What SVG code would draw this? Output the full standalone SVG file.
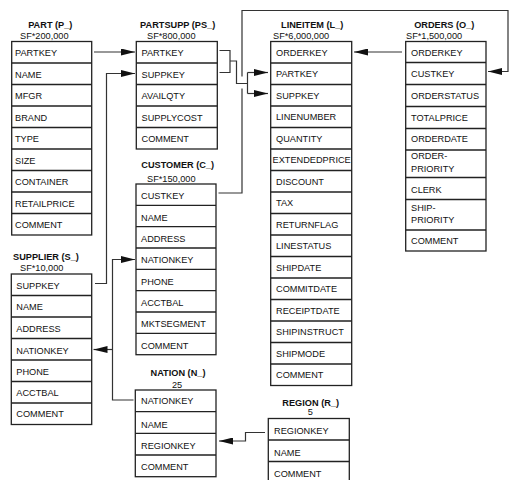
<svg xmlns="http://www.w3.org/2000/svg" width="518" height="480" viewBox="0 0 518 480">
<style>
.t{font-family:"Liberation Sans",Arial,sans-serif;font-size:9.2px;fill:#111}
.h{font-weight:bold;text-anchor:middle}
.m{text-anchor:middle}
.box{fill:#fff;stroke:#222;stroke-width:1.3}
.sep{stroke:#222;stroke-width:1.3;fill:none}
.c{fill:none;stroke:#333;stroke-width:1.2}
</style>
<defs>
<marker id="ah" markerWidth="14" markerHeight="7" refX="14" refY="3.5" orient="auto" markerUnits="userSpaceOnUse"><path d="M0,0 L14,3.5 L0,7 z" fill="#111"/></marker>
</defs>
<rect width="518" height="480" fill="#fff"/>

<g id="part">
<text class="t h" x="50.3" y="27.5">PART (P_)</text>
<text class="t" x="20" y="39.3">SF*200,000</text>
<rect class="box" x="11.7" y="41.5" width="80" height="193.5"/>
<path class="sep" d="M11.7,63H91.7M11.7,84.5H91.7M11.7,106H91.7M11.7,127.5H91.7M11.7,149H91.7M11.7,170.5H91.7M11.7,192H91.7M11.7,213.5H91.7"/>
<text class="t" x="15" y="56">PARTKEY</text>
<text class="t" x="15" y="77.5">NAME</text>
<text class="t" x="15" y="99">MFGR</text>
<text class="t" x="15" y="120.5">BRAND</text>
<text class="t" x="15" y="142">TYPE</text>
<text class="t" x="15" y="163.5">SIZE</text>
<text class="t" x="15" y="185">CONTAINER</text>
<text class="t" x="15" y="206.5">RETAILPRICE</text>
<text class="t" x="15" y="228">COMMENT</text>
</g>

<g id="partsupp">
<text class="t h" x="177.7" y="27.5">PARTSUPP (PS_)</text>
<text class="t" x="147" y="39.3">SF*800,000</text>
<rect class="box" x="136.3" y="41.5" width="81" height="107.5"/>
<path class="sep" d="M136.3,63H217.3M136.3,84.5H217.3M136.3,106H217.3M136.3,127.5H217.3"/>
<text class="t" x="141.5" y="56">PARTKEY</text>
<text class="t" x="141.5" y="77.5">SUPPKEY</text>
<text class="t" x="141.5" y="99">AVAILQTY</text>
<text class="t" x="141.5" y="120.5">SUPPLYCOST</text>
<text class="t" x="141.5" y="142">COMMENT</text>
</g>

<g id="lineitem">
<text class="t h" x="312.2" y="27.8">LINEITEM (L_)</text>
<text class="t" x="273" y="39.3">SF*6,000,000</text>
<rect class="box" x="270.7" y="41.5" width="81" height="344"/>
<path class="sep" d="M270.7,63H351.7M270.7,84.5H351.7M270.7,106H351.7M270.7,127.5H351.7M270.7,149H351.7M270.7,170.5H351.7M270.7,192H351.7M270.7,213.5H351.7M270.7,235H351.7M270.7,256.5H351.7M270.7,278H351.7M270.7,299.5H351.7M270.7,321H351.7M270.7,342.5H351.7M270.7,364H351.7"/>
<text class="t" x="276" y="55.8">ORDERKEY</text>
<text class="t" x="276" y="77.3">PARTKEY</text>
<text class="t" x="276" y="98.8">SUPPKEY</text>
<text class="t" x="276" y="120.3">LINENUMBER</text>
<text class="t" x="276" y="141.8">QUANTITY</text>
<text class="t" x="272.6" y="163.3">EXTENDEDPRICE</text>
<text class="t" x="276" y="184.8">DISCOUNT</text>
<text class="t" x="276" y="206.3">TAX</text>
<text class="t" x="276" y="227.8">RETURNFLAG</text>
<text class="t" x="276" y="249.3">LINESTATUS</text>
<text class="t" x="276" y="270.8">SHIPDATE</text>
<text class="t" x="276" y="292.3">COMMITDATE</text>
<text class="t" x="276" y="313.8">RECEIPTDATE</text>
<text class="t" x="276" y="335.3">SHIPINSTRUCT</text>
<text class="t" x="276" y="356.8">SHIPMODE</text>
<text class="t" x="276" y="378.3">COMMENT</text>
</g>

<g id="orders">
<text class="t h" x="444.3" y="27.8">ORDERS (O_)</text>
<text class="t" x="406" y="39.3">SF*1,500,000</text>
<rect class="box" x="405.7" y="41.5" width="80.3" height="209.5"/>
<path class="sep" d="M405.7,62.5H486M405.7,84.5H486M405.7,106.5H486M405.7,128.5H486M405.7,150H486M405.7,177.5H486M405.7,199.5H486M405.7,230H486"/>
<text class="t" x="411" y="55.5">ORDERKEY</text>
<text class="t" x="411" y="77">CUSTKEY</text>
<text class="t" x="411" y="99">ORDERSTATUS</text>
<text class="t" x="411" y="121.2">TOTALPRICE</text>
<text class="t" x="411" y="141.8">ORDERDATE</text>
<text class="t" x="411" y="159.3">ORDER-</text>
<text class="t" x="411" y="171.7">PRIORITY</text>
<text class="t" x="411" y="192.5">CLERK</text>
<text class="t" x="411" y="211">SHIP-</text>
<text class="t" x="411" y="223.3">PRIORITY</text>
<text class="t" x="411" y="244.3">COMMENT</text>
</g>

<g id="customer">
<text class="t h" x="177.7" y="168.3">CUSTOMER (C_)</text>
<text class="t" x="147" y="181.5">SF*150,000</text>
<rect class="box" x="136" y="184" width="80" height="170.7"/>
<path class="sep" d="M136,205.3H216M136,226.7H216M136,248H216M136,269.3H216M136,290.7H216M136,312H216M136,333.3H216"/>
<text class="t" x="141" y="199.3">CUSTKEY</text>
<text class="t" x="141" y="220.7">NAME</text>
<text class="t" x="141" y="242">ADDRESS</text>
<text class="t" x="141" y="263.3">NATIONKEY</text>
<text class="t" x="141" y="284.7">PHONE</text>
<text class="t" x="141" y="306">ACCTBAL</text>
<text class="t" x="141" y="327.3">MKTSEGMENT</text>
<text class="t" x="141" y="348.5">COMMENT</text>
</g>

<g id="supplier">
<text class="t h" x="46" y="260.3">SUPPLIER (S_)</text>
<text class="t" x="20" y="270.7">SF*10,000</text>
<rect class="box" x="11.3" y="274" width="80.4" height="150.5"/>
<path class="sep" d="M11.3,295.5H91.7M11.3,317H91.7M11.3,338.5H91.7M11.3,360H91.7M11.3,381.5H91.7M11.3,403H91.7"/>
<text class="t" x="16.3" y="289">SUPPKEY</text>
<text class="t" x="16.3" y="310.3">NAME</text>
<text class="t" x="16.3" y="331.7">ADDRESS</text>
<text class="t" x="16.3" y="353.5">NATIONKEY</text>
<text class="t" x="16.3" y="374.5">PHONE</text>
<text class="t" x="16.3" y="395.8">ACCTBAL</text>
<text class="t" x="16.3" y="417">COMMENT</text>
</g>

<g id="nation">
<text class="t h" x="178" y="375.8">NATION (N_)</text>
<text class="t m" x="177" y="388">25</text>
<rect class="box" x="135.3" y="390" width="80.7" height="86.7"/>
<path class="sep" d="M135.3,411.7H216M135.3,433.3H216M135.3,455H216"/>
<text class="t" x="141" y="404.3">NATIONKEY</text>
<text class="t" x="141" y="427.5">NAME</text>
<text class="t" x="141" y="449">REGIONKEY</text>
<text class="t" x="141" y="469.5">COMMENT</text>
</g>

<g id="region">
<text class="t h" x="310.7" y="405.7">REGION (R_)</text>
<text class="t m" x="310.3" y="415.3">5</text>
<rect class="box" x="268.3" y="418.5" width="81" height="64.5"/>
<path class="sep" d="M268.3,440H349.3M268.3,461.5H349.3"/>
<text class="t" x="274" y="434">REGIONKEY</text>
<text class="t" x="274" y="456">NAME</text>
<text class="t" x="274" y="476.7">COMMENT</text>
</g>

<g id="connectors">
<path class="c" d="M94,52H135" marker-end="url(#ah)"/>
<path class="c" d="M95,283.5H106.5V73.5H135" marker-end="url(#ah)"/>
<path class="c" d="M219.5,50.5H230V72.5H219.5M230,61H236.5V83.5H247.5M247.5,72.5V93.5"/>
<path class="c" d="M247.5,72.5H268" marker-end="url(#ah)"/>
<path class="c" d="M247.5,93.5H268" marker-end="url(#ah)"/>
<path class="c" d="M402,52H354" marker-end="url(#ah)"/>
<path class="c" d="M218.5,193H242V88.5"/>
<path class="c" d="M242,76.5V10.5H508V71.5H488" marker-end="url(#ah)"/>
<path class="c" d="M133.5,400H112.5V259.5H135" marker-end="url(#ah)"/>
<path class="c" d="M112.5,349.5H93.5" marker-end="url(#ah)"/>
<path class="c" d="M265,432.5H245.5V441H219" marker-end="url(#ah)"/>
</g>
</svg>
